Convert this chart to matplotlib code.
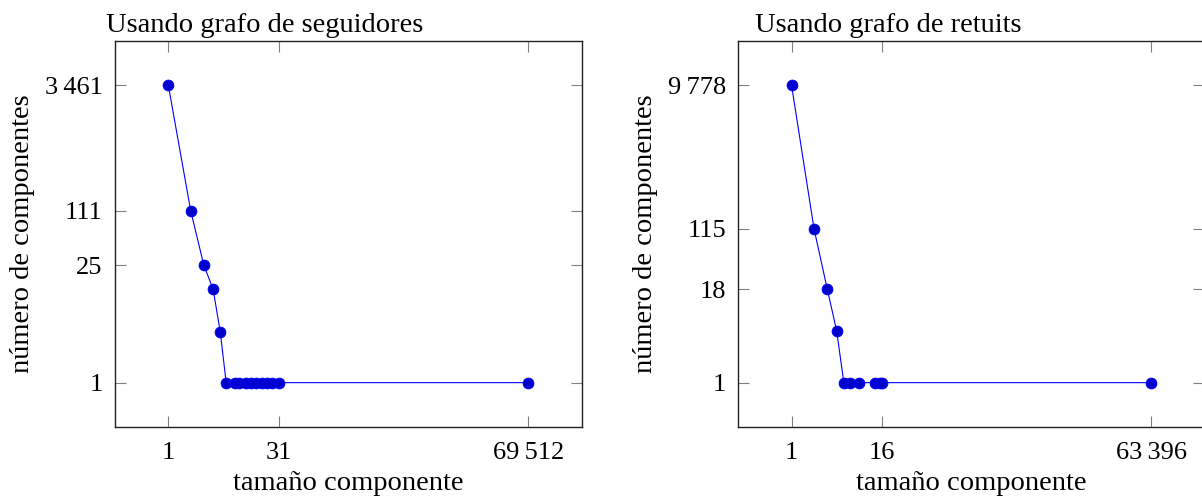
import numpy as np
import matplotlib
matplotlib.use("Agg")
import matplotlib.pyplot as plt
from matplotlib.ticker import FixedLocator, FixedFormatter, NullLocator

plt.rcParams['font.family'] = ['Liberation Serif', 'DejaVu Serif']

# Data: left panel (followers graph)
seg_size = [1, 2, 3, 4, 5, 6, 8, 9, 11, 13, 15, 18, 21, 25, 31, 69512]
seg_count = [3461, 111, 25, 13, 4, 1, 1, 1, 1, 1, 1, 1, 1, 1, 1, 1]
seg_xticks = [1, 31, 69512]
seg_yticks = [1, 25, 111, 3461]

# Data: right panel (retweets graph)
ret_size = [1, 2, 3, 4, 5, 6, 8, 13, 15, 16, 63396]
ret_count = [9778, 115, 18, 5, 1, 1, 1, 1, 1, 1, 1]
ret_xticks = [1, 16, 63396]
ret_yticks = [1, 18, 115, 9778]

titles = ["Usando grafo de seguidores", "Usando grafo de retuits"]
xlabel = "tamaño componente"
ylabel = "número de componentes"

W, H = 1202, 501
fig = plt.figure(figsize=(W / 100, H / 100), dpi=100)


def fmt(v):
    return f"{v:,}".replace(",", "\u2009")


def enlarge(vals, frac=0.148):
    lo, hi = np.log10(min(vals)), np.log10(max(vals))
    r = hi - lo
    return 10 ** (lo - frac * r), 10 ** (hi + frac * r)


FS_LAB = 20.5
FS_TICK = 19


def panel(rect, xs, ys, xt, yt, title, title_cx):
    ax = fig.add_axes(rect)
    ax.set_xscale('log')
    ax.set_yscale('log')
    ax.plot(xs, ys, color='blue', lw=0.8, marker='o', markersize=7.8,
            markerfacecolor='#0000cc', markeredgecolor='blue', markeredgewidth=0.6,
            clip_on=False, zorder=3)
    ax.set_xlim(*enlarge(xs))
    ax.set_ylim(*enlarge(ys))
    ax.xaxis.set_major_locator(FixedLocator(xt))
    ax.xaxis.set_major_formatter(FixedFormatter([fmt(v) for v in xt]))
    ax.yaxis.set_major_locator(FixedLocator(yt))
    ax.yaxis.set_major_formatter(FixedFormatter([fmt(v) for v in yt]))
    ax.xaxis.set_minor_locator(NullLocator())
    ax.yaxis.set_minor_locator(NullLocator())
    ax.tick_params(which='major', direction='in', length=8, width=0.8,
                   color='#808080', top=True, right=True, labelsize=FS_TICK)
    ax.tick_params(axis='x', pad=11)
    ax.tick_params(axis='y', pad=9)
    for sp in ax.spines.values():
        sp.set_linewidth(1.0)
        sp.set_color('#222222')
    ax.set_xlabel(xlabel, fontsize=FS_LAB, labelpad=5)
    ax.set_ylabel(ylabel, fontsize=FS_LAB, labelpad=7)
    fig.text(title_cx / W, 1 - 32 / H, title, fontsize=FS_LAB,
             ha='center', va='baseline')
    return ax


bottom = (H - 426.7) / H
height = (426.7 - 41) / H
panel([115 / W, bottom, 466.7 / W, height], seg_size, seg_count,
      seg_xticks, seg_yticks, titles[0], 265)
panel([738.3 / W, bottom, 466 / W, height], ret_size, ret_count,
      ret_xticks, ret_yticks, titles[1], 888.5)

fig.savefig("out.png", dpi=100)
